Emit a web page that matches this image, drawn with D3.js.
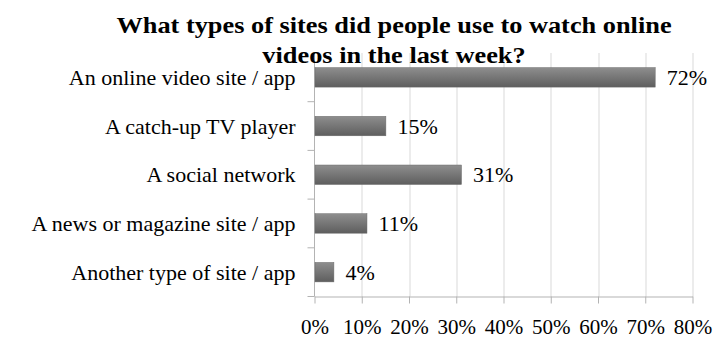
<!DOCTYPE html>
<html>
<head>
<meta charset="utf-8">
<script src="https://cdn.jsdelivr.net/npm/d3@7"></script>
<style>
  html, body { margin: 0; padding: 0; background: #fff; }
  svg { display: block; font-family: "Liberation Serif", "Times New Roman", serif; }
</style>
</head>
<body>
<svg id="chart" width="718" height="342"></svg>
<script>
// Survey categories and share of respondents
const categories = [
  "An online video site / app",
  "A catch-up TV player",
  "A social network",
  "A news or magazine site / app",
  "Another type of site / app"
];
const shares = [72, 15, 31, 11, 4];
const tickValues = [0, 10, 20, 30, 40, 50, 60, 70, 80];
const titleLines = [
  "What types of sites did people use to watch online",
  "videos in the last week?"
];

const data = categories.map((c, i) => ({ category: c, value: shares[i] }));

const svg = d3.select("#chart");
const margin = { top: 53, left: 314.5, right: 25.5, bottom: 45.5 };
const width = 718 - margin.left - margin.right;
const height = 342 - margin.top - margin.bottom;

const x = d3.scaleLinear().domain([0, 80]).range([0, width]);
const y = d3.scaleBand().domain(categories).range([0, height]).paddingInner(0.6).paddingOuter(0.3);

const defs = svg.append("defs");
const grad = defs.append("linearGradient")
  .attr("id", "barFill").attr("x1", 0).attr("y1", 0).attr("x2", 0).attr("y2", 1);
grad.append("stop").attr("offset", "0%").attr("stop-color", "#8e8e8e");
grad.append("stop").attr("offset", "100%").attr("stop-color", "#5e5e5e");

const g = svg.append("g").attr("transform", `translate(${margin.left},${margin.top})`);

// vertical gridlines
g.append("g")
  .selectAll("line")
  .data(tickValues.slice(1))
  .join("line")
  .attr("x1", d => Math.round(x(d)) + 0.5)
  .attr("x2", d => Math.round(x(d)) + 0.5)
  .attr("y1", 0)
  .attr("y2", height)
  .attr("stroke", "#d9d9d9")
  .attr("stroke-width", 1);

// bottom axis
const xAxis = g.append("g")
  .attr("transform", `translate(0,${height})`)
  .call(d3.axisBottom(x).tickValues(tickValues).tickFormat(d => d + "%").tickSize(7).tickSizeOuter(0).tickPadding(16));
xAxis.select(".domain").attr("stroke", "#b3b3b3");
xAxis.selectAll(".tick line").attr("stroke", "#b3b3b3");
xAxis.selectAll(".tick text")
  .attr("font-family", "Liberation Serif, Times New Roman, serif")
  .attr("font-size", 21)
  .attr("fill", "#000");

// left axis with ticks at band boundaries
const boundaries = d3.range(categories.length + 1).map(i => i * height / categories.length);
g.append("line")
  .attr("x1", 0).attr("x2", 0).attr("y1", 0).attr("y2", height)
  .attr("stroke", "#b3b3b3");
g.append("g")
  .selectAll("line")
  .data(boundaries.slice(1))
  .join("line")
  .attr("x1", -7).attr("x2", 0)
  .attr("y1", d => d).attr("y2", d => d)
  .attr("stroke", "#b3b3b3");

// category labels
g.append("g")
  .selectAll("text")
  .data(data)
  .join("text")
  .attr("x", -19)
  .attr("y", d => y(d.category) + y.bandwidth() / 2)
  .attr("dy", "0.35em")
  .attr("text-anchor", "end")
  .attr("font-size", 22)
  .attr("fill", "#000")
  .text(d => d.category);

// bars
g.append("g")
  .selectAll("rect")
  .data(data)
  .join("rect")
  .attr("x", 0.5)
  .attr("y", d => y(d.category))
  .attr("width", d => x(d.value))
  .attr("height", y.bandwidth())
  .attr("fill", "url(#barFill)")
  .attr("stroke", "#6a6a6a")
  .attr("stroke-width", 0.5);

// value labels
g.append("g")
  .selectAll("text")
  .data(data)
  .join("text")
  .attr("x", d => x(d.value) + 12)
  .attr("y", d => y(d.category) + y.bandwidth() / 2)
  .attr("dy", "0.35em")
  .attr("font-size", 22)
  .attr("fill", "#000")
  .text(d => d.value + "%");

// title: slightly widened bold serif, two centred lines
svg.append("g")
  .attr("transform", "translate(394,0) scale(1.145,1)")
  .append("text")
  .attr("text-anchor", "middle")
  .attr("font-weight", "bold")
  .attr("font-size", 23)
  .selectAll("tspan")
  .data(titleLines)
  .join("tspan")
  .attr("x", 0)
  .attr("y", (d, i) => 33 + i * 30)
  .text(d => d);
</script>
</body>
</html>
